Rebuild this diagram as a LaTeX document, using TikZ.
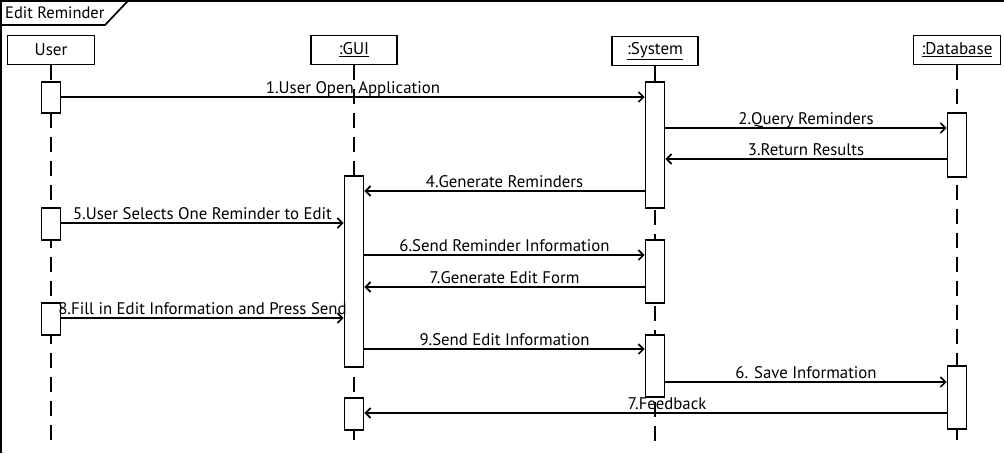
\documentclass[tikz,border=0pt]{standalone}
\usepackage{fontspec}
\setmainfont{PT Sans}
\usetikzlibrary{arrows.meta}
\begin{document}
\begin{tikzpicture}[x=1pt,y=-1pt,
 head/.style={draw,line width=1.7pt,minimum width=87pt,minimum height=29pt,inner sep=0pt,font=\fontsize{17}{17}\selectfont},
 act/.style={draw,fill=white,line width=1.7pt,minimum width=19pt,inner sep=0pt},
 life/.style={line width=1.7pt,dash pattern=on 15pt off 9pt},
 msg/.style={line width=1.7pt,-{Straight Barb[length=5pt,width=10pt]}},
 lbl/.style={font=\fontsize{16.8}{17}\selectfont,anchor=base,yshift=4pt,inner sep=0pt}]
\useasboundingbox (0,0) rectangle (1004,453);
% frame
\draw[line width=1.7pt] (0.85,453) -- (0.85,0.85) -- (1004,0.85);
\draw[line width=1.7pt] (0.85,25) -- (105,25) -- (128,0.85);
\node[anchor=west,inner sep=0pt,font=\fontsize{16.5}{17}\selectfont] (title) at (5,13) {Edit Reminder};
% heads
\node[head] (user) at (51,50) {User};
\node[head,minimum width=86pt] (gui) at (354,50) {\underline{:GUI}};
\node[head,minimum width=86pt] (sys) at (655,51) {\underline{:System}};
\node[head] (db) at (957,50) {\underline{:Database}};
% lifelines
\coordinate (uend) at (51,445);
\coordinate (gend) at (354,445);
\coordinate (send) at (655,445);
\coordinate (dend) at (957,445);
\draw[life] (user.south) -- (uend);
\draw[life] (gui.south) -- (gend);
\draw[life] (sys.south) -- (send);
\draw[life] (db.south) -- (dend);
% activations
\node[act,minimum height=31pt] (u1) at (51,97.5) {};
\node[act,minimum height=32pt] (u2) at (51,224) {};
\node[act,minimum height=32pt] (u3) at (51,319) {};
\node[act,minimum height=191pt] (g1) at (354,271.5) {};
\node[act,minimum height=32pt] (g2) at (354,414) {};
\node[act,minimum height=126pt] (s1) at (655,145) {};
\node[act,minimum height=63pt] (s2) at (655,271.5) {};
\node[act,minimum height=62pt] (s3) at (655,366) {};
\node[act,minimum height=64pt] (d1) at (957,145) {};
\node[act,minimum height=63pt] (d2) at (957,397.5) {};
% messages
\draw[msg] (u1.east |- 0,97) -- node[lbl,midway] {1.User Open Application} (s1.west |- 0,97);
\draw[msg] (s1.east |- 0,128) -- node[lbl,midway] {2.Query Reminders} (d1.west |- 0,128);
\draw[msg] (d1.west |- 0,159) -- node[lbl,midway] {3.Return Results} (s1.east |- 0,159);
\draw[msg] (s1.west |- 0,191) -- node[lbl,midway] {4.Generate Reminders} (g1.east |- 0,191);
\draw[msg] (u2.east |- 0,223) -- node[lbl,midway] {5.User Selects One Reminder to Edit} (g1.west |- 0,223);
\draw[msg] (g1.east |- 0,255) -- node[lbl,midway] {6.Send Reminder Information} (s2.west |- 0,255);
\draw[msg] (s2.west |- 0,287) -- node[lbl,midway] {7.Generate Edit Form} (g1.east |- 0,287);
\draw[msg] (u3.east |- 0,318) -- node[lbl,midway] {8.Fill in Edit Information and Press Send} (g1.west |- 0,318);
\draw[msg] (g1.east |- 0,349) -- node[lbl,midway] {9.Send Edit Information} (s3.west |- 0,349);
\draw[msg] (s3.east |- 0,382) -- node[lbl,midway] {6. Save Information} (d2.west |- 0,382);
\draw[msg] (d2.west |- 0,413) -- node[lbl,pos=0.48] {7.Feedback} (g2.east |- 0,413);
\end{tikzpicture}
\end{document}
